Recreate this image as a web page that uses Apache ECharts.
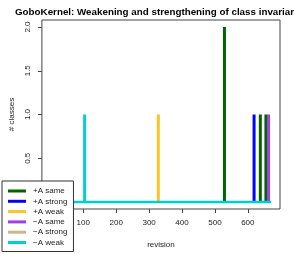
<!DOCTYPE html>
<html>
<head>
<meta charset="utf-8">
<script src="https://cdn.jsdelivr.net/npm/echarts@6/dist/echarts.min.js"></script>
<style>html,body{margin:0;padding:0;background:#fff;}#c{width:294px;height:254px;}</style>
</head>
<body>
<div id="c"></div>
<script>
// ---- data ----
const titleText = 'GoboKernel: Weakening and strengthening of class invariants';
const seriesNames = ['+A same', '+A strong', '+A weak', '\u2212A same', '\u2212A strong', '\u2212A weak'];
const seriesColors = ['#006400', '#0000FF', '#FFC125', '#A040E8', '#D2B48C', '#00CED1'];
const revFirst = 1;
const revLast = 671;
const plusASameRev = [529, 638, 655];
const plusASameVal = [2, 1, 1];
const plusAStrongRev = [619];
const plusAStrongVal = [1];
const plusAWeakRev = [328];
const plusAWeakVal = [1];
const minusASameRev = [663];
const minusASameVal = [1];
const minusAStrongRev = [];
const minusAStrongVal = [];
const minusAWeakRev = [104];
const minusAWeakVal = [1];
const xTicks = [100, 200, 300, 400, 500, 600];
const yTicks = [0, 0.5, 1, 1.5, 2];

const revs = [plusASameRev, plusAStrongRev, plusAWeakRev, minusASameRev, minusAStrongRev, minusAWeakRev];
const vals = [plusASameVal, plusAStrongVal, plusAWeakVal, minusASameVal, minusAStrongVal, minusAWeakVal];

const font = 'Liberation Sans, Arial, sans-serif';
const pad = (revLast - revFirst) * 0.04;

const series = seriesNames.map((n, i) => ({
  name: n,
  type: 'bar',
  barWidth: 3,
  barGap: '-100%',
  itemStyle: { color: seriesColors[i] },
  data: revs[i].map((r, k) => [r, vals[i][k]]),
  silent: true,
  animation: false
}));
series.push({
  name: seriesNames[5],
  type: 'line',
  symbol: 'none',
  lineStyle: { color: seriesColors[5], width: 2.6 },
  itemStyle: { color: seriesColors[5] },
  data: [[revFirst, 0], [revLast, 0]],
  z: 3,
  animation: false
});

const chart = echarts.init(document.getElementById('c'), null, { renderer: 'canvas' });
chart.setOption({
  animation: false,
  backgroundColor: '#fff',
  title: {
    text: titleText,
    left: 15,
    top: 7,
    padding: 0,
    textStyle: { fontFamily: font, fontSize: 9.8, fontWeight: 'bold', color: '#000' }
  },
  grid: {
    left: 41, right: 14, top: 20, bottom: 41,
    show: true, borderColor: '#444', borderWidth: 1, backgroundColor: 'transparent'
  },
  xAxis: {
    type: 'value',
    min: revFirst - pad,
    max: revLast + pad,
    name: 'revision',
    nameLocation: 'middle',
    nameGap: 32,
    nameTextStyle: { fontFamily: font, fontSize: 8, color: '#222' },
    axisLine: { show: false, onZero: false },
    splitLine: { show: false },
    axisTick: { show: true, length: 4, lineStyle: { color: '#444' }, customValues: xTicks },
    axisLabel: { fontFamily: font, fontSize: 8, color: '#222', margin: 10, customValues: xTicks }
  },
  yAxis: {
    type: 'value',
    min: -0.08,
    max: 2.08,
    name: '# classes',
    nameLocation: 'middle',
    nameGap: 21,
    nameTextStyle: { fontFamily: font, fontSize: 8, color: '#222' },
    axisLine: { show: false, onZero: false },
    splitLine: { show: false },
    axisTick: { show: true, length: 4, lineStyle: { color: '#444' }, customValues: yTicks },
    axisLabel: { fontFamily: font, fontSize: 8, color: '#222', margin: 10, rotate: 90,
      customValues: yTicks, formatter: v => Number(v).toFixed(1) }
  },
  legend: {
    orient: 'vertical',
    left: 2,
    top: 181,
    data: seriesNames,
    icon: 'rect',
    itemWidth: 18,
    itemHeight: 3,
    itemGap: 0.3,
    padding: [5, 6, 4, 6],
    backgroundColor: '#fff',
    borderColor: '#333',
    borderWidth: 1,
    borderRadius: 0,
    selectedMode: false,
    z: 10,
    textStyle: { fontFamily: font, fontSize: 8, color: '#222', lineHeight: 10, padding: [0, 0, 0, 2] }
  },
  series: series
});
</script>
</body>
</html>
